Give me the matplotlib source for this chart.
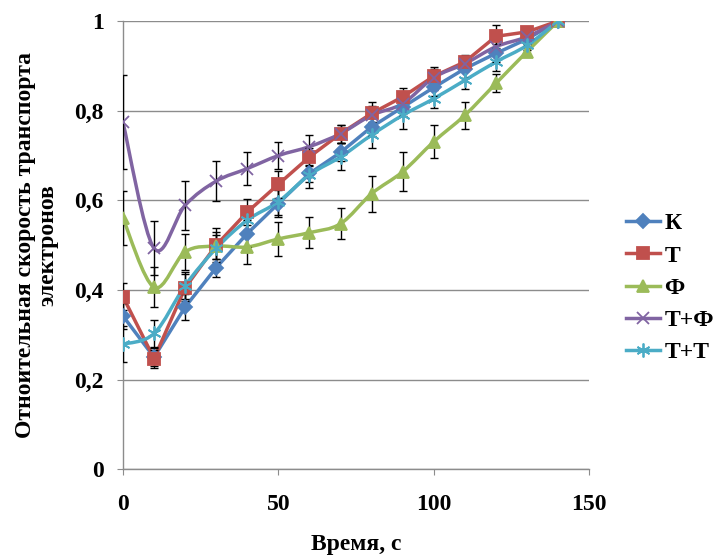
import matplotlib.pyplot as plt
from matplotlib.path import Path
from matplotlib.patches import PathPatch
from matplotlib.lines import Line2D
from matplotlib.ticker import FuncFormatter

plt.rcParams["font.family"] = ["Liberation Serif", "DejaVu Serif"]
plt.rcParams["font.weight"] = "bold"

time_s = [0, 10, 20, 30, 40, 50, 60, 70, 80, 90, 100, 110, 120, 130, 140]

k_vals = [0.342, 0.25, 0.362, 0.45, 0.526, 0.593, 0.66, 0.707, 0.764, 0.808, 0.852, 0.894, 0.928, 0.96, 1.0]
t_vals = [0.385, 0.247, 0.405, 0.50, 0.574, 0.636, 0.697, 0.749, 0.794, 0.831, 0.877, 0.909, 0.966, 0.976, 1.0]
f_vals = [0.56, 0.406, 0.485, 0.498, 0.496, 0.514, 0.528, 0.548, 0.615, 0.664, 0.731, 0.79, 0.861, 0.932, 1.0]
tf_vals = [0.774, 0.493, 0.589, 0.643, 0.671, 0.70, 0.72, 0.749, 0.79, 0.816, 0.874, 0.905, 0.943, 0.965, 1.0]
tt_vals = [0.279, 0.303, 0.41, 0.493, 0.556, 0.597, 0.657, 0.697, 0.746, 0.79, 0.827, 0.868, 0.909, 0.946, 1.0]

k_err = [0.03, 0.02, 0.03, 0.02, 0.03, 0.03, 0.02, 0.02, 0.02, 0.02, 0.02, 0.02, 0.02, 0.01, 0.0]
t_err = [0.03, 0.02, 0.03, 0.03, 0.03, 0.03, 0.02, 0.02, 0.025, 0.02, 0.02, 0.015, 0.025, 0.01, 0.0]
f_err = [0.06, 0.045, 0.04, 0.04, 0.037, 0.038, 0.035, 0.035, 0.04, 0.043, 0.037, 0.03, 0.02, 0.01, 0.0]
tf_err = [0.105, 0.06, 0.055, 0.045, 0.037, 0.03, 0.025, 0.02, 0.02, 0.02, 0.02, 0.015, 0.015, 0.01, 0.0]
tt_err = [0.04, 0.03, 0.03, 0.03, 0.03, 0.03, 0.03, 0.03, 0.03, 0.03, 0.02, 0.02, 0.02, 0.01, 0.0]

labels = ["К", "Т", "Ф", "Т+Ф", "Т+Т"]
colors = ["#4F81BD", "#C0504D", "#9BBB59", "#8064A2", "#4BACC6"]
markers = ["D", "s", "^", "x", (6, 2, 0)]
msizes = [7, 9, 9, 9, 10]
smooth = [False, False, True, True, True]

FS = 17


def smooth_path(xs, ys):
    # Excel-like smoothed line as cubic Bezier segments
    pts = list(zip(xs, ys))
    n = len(pts)
    verts = [pts[0]]
    codes = [Path.MOVETO]
    for i in range(n - 1):
        p0 = pts[i - 1] if i > 0 else pts[i]
        p1 = pts[i]
        p2 = pts[i + 1]
        p3 = pts[i + 2] if i + 2 < n else pts[i + 1]
        c1 = (p1[0] + (p2[0] - p0[0]) / 6, p1[1] + (p2[1] - p0[1]) / 6)
        c2 = (p2[0] - (p3[0] - p1[0]) / 6, p2[1] - (p3[1] - p1[1]) / 6)
        verts += [c1, c2, p2]
        codes += [Path.CURVE4] * 3
    return Path(verts, codes)


fig = plt.figure(figsize=(7.15, 5.56), dpi=100)
ax = fig.add_axes([0.172, 0.156, 0.652, 0.806])

series = [k_vals, t_vals, f_vals, tf_vals, tt_vals]
errors = [k_err, t_err, f_err, tf_err, tt_err]

handles = []
for vals, err, lab, col, mk, ms, sm in zip(series, errors, labels, colors, markers, msizes, smooth):
    if sm:
        ax.add_patch(PathPatch(smooth_path(time_s, vals), facecolor="none",
                               edgecolor=col, lw=2.5, zorder=2))
    else:
        ax.plot(time_s, vals, color=col, lw=2.5, zorder=2)
    ax.errorbar(time_s, vals, yerr=err, fmt="none", ecolor="black",
                elinewidth=1, capsize=3, capthick=1, zorder=3)
    ax.plot(time_s, vals, linestyle="none", marker=mk, markersize=ms,
            color=col, markeredgecolor=col, markeredgewidth=1.3, zorder=4)
    handles.append(Line2D([], [], color=col, lw=2.5, marker=mk, markersize=ms,
                          markeredgecolor=col, markeredgewidth=1.3))

ax.set_xlim(0, 150)
ax.set_ylim(0, 1)
ax.set_xticks([0, 50, 100, 150])
ax.set_yticks([0, 0.2, 0.4, 0.6, 0.8, 1.0])
ax.yaxis.set_major_formatter(FuncFormatter(
    lambda v, p: "0" if v == 0 else ("1" if v == 1 else f"{v:.1f}".replace(".", ","))))

ax.grid(axis="y", color="#8C8C8C", lw=1)
ax.set_axisbelow(True)
for s in ["top", "right"]:
    ax.spines[s].set_visible(False)
for s in ["left", "bottom"]:
    ax.spines[s].set_color("#8C8C8C")
    ax.spines[s].set_linewidth(1)
ax.tick_params(axis="both", direction="out", length=4, color="#8C8C8C",
               labelsize=FS)
ax.tick_params(axis="y", pad=10)
ax.tick_params(axis="x", pad=14)
for lbl in ax.get_xticklabels() + ax.get_yticklabels():
    lbl.set_fontweight("bold")

ax.set_xlabel("Время, с", fontsize=FS, fontweight="bold")
ax.xaxis.set_label_coords(0.5, -0.145)
ax.set_ylabel("Отноительная скорость транспорта\nэлектронов", fontsize=FS,
              fontweight="bold", linespacing=1.1)
ax.yaxis.set_label_coords(-0.139, 0.5)

fig.legend(handles, labels, loc="center left",
           bbox_to_anchor=(626 / 715, 1 - 288 / 556),
           frameon=False, prop={"size": FS, "weight": "bold"},
           borderpad=0, borderaxespad=0,
           handlelength=1.45, handletextpad=0.17, labelspacing=0.45)

fig.savefig("out.png", dpi=100)
